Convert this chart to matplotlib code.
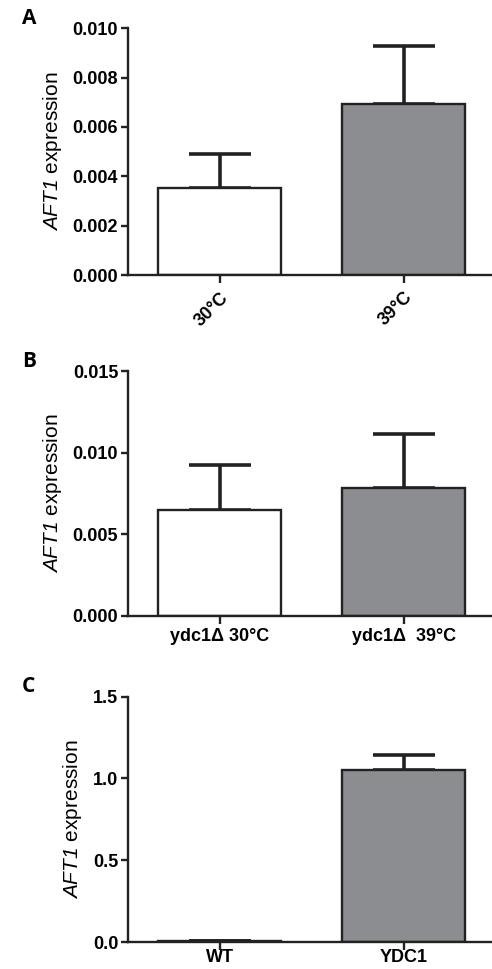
import matplotlib.pyplot as plt

plt.rcParams['font.family'] = ['Liberation Sans', 'DejaVu Sans']
plt.rcParams['mathtext.fontset'] = 'custom'
plt.rcParams['mathtext.it'] = 'Liberation Sans:italic'
plt.rcParams['mathtext.rm'] = 'Liberation Sans:italic'

# panel A
labels_a = ["30°C", "39°C"]
means_a = [0.00351, 0.00693]
errs_a = [0.00139, 0.00235]

# panel B
labels_b = ["ydc1Δ 30°C", "ydc1Δ  39°C"]
means_b = [0.00647, 0.00786]
errs_b = [0.00278, 0.00326]

# panel C
labels_c = ["WT", "YDC1"]
means_c = [0.006, 1.05]
errs_c = [0.004, 0.096]

bar_colors = ["white", "#8c8d91"]

fig = plt.figure(figsize=(4.92, 9.69), dpi=100)

panels = [
    ([0.260, 0.7162, 0.740, 0.2546], "A", labels_a, means_a, errs_a,
     (0, 0.010), [0, 0.002, 0.004, 0.006, 0.008, 0.010], "{:.3f}", 45, 4),
    ([0.260, 0.3643, 0.740, 0.2528], "B", labels_b, means_b, errs_b,
     (0, 0.015), [0, 0.005, 0.010, 0.015], "{:.3f}", 0, 3),
    ([0.260, 0.0276, 0.740, 0.2535], "C", labels_c, means_c, errs_c,
     (0, 1.5), [0, 0.5, 1.0, 1.5], "{:.1f}", 0, -1),
]

for rect, letter, labels, means, errs, ylim, yticks, fmt, rot, xpad in panels:
    ax = fig.add_axes(rect)
    x = [0, 1]
    ax.bar(x, means, width=0.67, color=bar_colors, edgecolor="#222222",
           linewidth=1.7, zorder=2)
    ax.errorbar(x, means, yerr=[[0, 0], errs], fmt="none", ecolor="#222222",
                elinewidth=2.6, capsize=22, capthick=2.6, zorder=1)
    ax.set_xlim(-0.5, 1.48)
    ax.set_ylim(*ylim)
    ax.set_yticks(yticks)
    ax.set_yticklabels([fmt.format(v) for v in yticks], fontsize=13,
                       fontweight="bold")
    ax.set_xticks(x)
    if rot:
        ax.set_xticklabels(labels, rotation=45, ha="right",
                           rotation_mode="anchor", fontsize=13,
                           fontweight="bold")
    else:
        ax.set_xticklabels(labels, fontsize=13, fontweight="bold")
    for s in ["top", "right"]:
        ax.spines[s].set_visible(False)
    for s in ["left", "bottom"]:
        ax.spines[s].set_linewidth(1.7)
        ax.spines[s].set_color("#222222")
    ax.tick_params(axis="y", length=5, width=1.7, color="#222222", pad=2)
    ax.tick_params(axis="x", length=6, width=1.7, color="#222222", pad=xpad)
    ax.set_ylabel(r"$AFT1$ expression", fontsize=15, labelpad=6)
    fig.text(0.045, rect[1] + rect[3] + 0.01, letter, fontsize=15,
             fontweight="bold", family="Open Sans", va="center")

fig.savefig("out.png", dpi=100)
